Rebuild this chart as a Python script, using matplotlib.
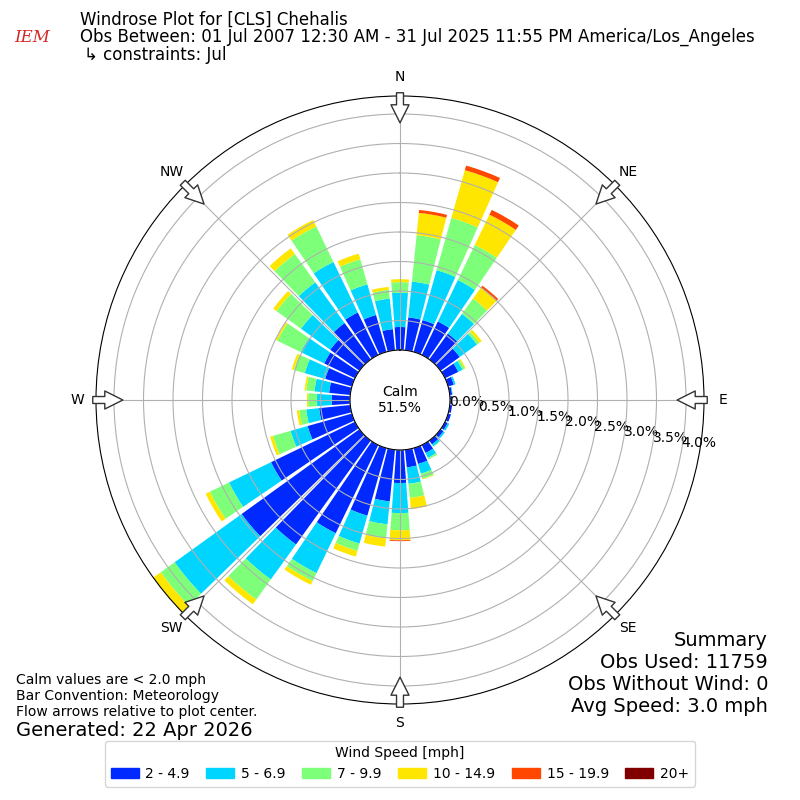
import numpy as np
import matplotlib
matplotlib.use("Agg")
import matplotlib.pyplot as plt
from matplotlib.patches import Patch

# direction bins (degrees, meteorological "from")
directions = np.arange(0, 360, 10)

speed_labels = ["2 - 4.9", "5 - 6.9", "7 - 9.9", "10 - 14.9", "15 - 19.9", "20+"]

# cumulative frequency [%] at the top of each speed bin, per direction
cum_2_5 = [0.39, 0.56, 0.56, 0.63, 0.54, 0.40, 0.25, 0.10, 0.04, 0.04, 0.04, 0.05,
           0.05, 0.06, 0.08, 0.15, 0.28, 0.30, 0.56, 0.88, 1.19, 1.66, 2.17, 2.46,
           1.58, 0.78, 0.53, 0.31, 0.36, 0.47, 0.58, 0.61, 0.76, 0.80, 0.65, 0.36]
cum_5_7 = [0.97, 1.17, 1.44, 1.41, 0.95, 0.76, 0.33, 0.13, 0.05, 0.04, 0.04, 0.05,
           0.08, 0.09, 0.12, 0.24, 0.45, 0.58, 1.07, 1.27, 1.68, 2.41, 2.90, 3.86,
           2.37, 1.08, 0.75, 0.56, 0.61, 0.83, 1.02, 1.22, 1.61, 1.75, 1.19, 0.88]
cum_7_10 = [1.15, 1.96, 2.36, 2.07, 1.27, 0.81, 0.37, 0.13, 0.05, 0.04, 0.04, 0.05,
            0.08, 0.09, 0.13, 0.27, 0.54, 0.82, 1.36, 1.51, 1.81, 2.56, 3.32, 4.15,
            2.73, 1.39, 0.87, 0.71, 0.75, 1.02, 1.46, 1.73, 2.20, 2.42, 1.63, 1.03]
cum_10_15 = [1.20, 2.34, 3.20, 2.64, 1.50, 0.86, 0.39, 0.13, 0.05, 0.04, 0.04, 0.05,
             0.08, 0.09, 0.13, 0.27, 0.55, 1.01, 1.53, 1.65, 1.91, 2.63, 3.42, 4.35,
             2.81, 1.44, 0.91, 0.73, 0.78, 1.06, 1.49, 1.80, 2.32, 2.54, 1.73, 1.08]
cum_15_20 = [1.20, 2.39, 3.28, 2.73, 1.54, 0.86, 0.39, 0.13, 0.05, 0.04, 0.04, 0.05,
             0.08, 0.09, 0.13, 0.27, 0.55, 1.01, 1.545, 1.65, 1.91, 2.63, 3.42, 4.35,
             2.81, 1.44, 0.91, 0.73, 0.78, 1.06, 1.49, 1.80, 2.32, 2.54, 1.73, 1.08]
cum_20p = list(cum_15_20)

calm_pct = 51.5
rticks = np.arange(0, 4.01, 0.5)
compass = ["N", "NE", "E", "SE", "S", "SW", "W", "NW"]

colors = plt.get_cmap("jet")(np.linspace(0, 1, 7)[1:])

fig = plt.figure(figsize=(8, 8), dpi=100)
ax = fig.add_axes([0.12, 0.12, 0.76, 0.76], projection="polar")
ax.set_theta_zero_location("N")
ax.set_theta_direction(-1)

rmax = 4.305
ax.set_ylim(0, rmax)
ax.set_rorigin(-0.847)

theta = np.deg2rad(directions)
width = np.deg2rad(8.5)
cums = [cum_2_5, cum_5_7, cum_7_10, cum_10_15, cum_15_20, cum_20p]
bottom = np.zeros(len(directions))
for cum, color in zip(cums, colors):
    top = np.array(cum)
    ax.bar(theta, top - bottom, width=width, bottom=bottom, color=color,
           linewidth=0)
    bottom = top

ax.set_xticks(np.deg2rad(np.arange(0, 360, 45)))
ax.set_xticklabels(compass, fontsize=10)
ax.tick_params(axis="x", pad=3)
ax.set_yticks(rticks)
ax.set_yticklabels([f"{v:.1f}%" for v in rticks], fontsize=10)
ax.set_rlabel_position(100)
ax.grid(True, color="#b0b0b0", lw=0.8)

# flow arrows on the rim, pointing to the center
for ang in np.arange(0, 360, 45):
    t = np.deg2rad(ang)
    ax.annotate("", xy=(t, 3.85), xytext=(t, 4.36), xycoords="data",
                annotation_clip=False,
                arrowprops=dict(arrowstyle="simple,head_length=1.3,head_width=1.3,tail_width=0.5",
                                fc="white", ec="#333333", lw=1,
                                shrinkA=0, shrinkB=0))

ax.text(0, -0.847, f"Calm\n{calm_pct}%", ha="center", va="center", fontsize=10)

# header
fig.text(14 / 800, 1 - 38 / 800, "IEM", color="#d62728", fontsize=12, style="italic",
         family="DejaVu Serif", va="center")
fig.text(80 / 800, 1 - 20 / 800, "Windrose Plot for [CLS] Chehalis", fontsize=12,
         va="center")
fig.text(80 / 800, 1 - 37 / 800,
         "Obs Between: 01 Jul 2007 12:30 AM - 31 Jul 2025 11:55 PM America/Los_Angeles",
         fontsize=12, va="center")
fig.text(84 / 800, 1 - 55 / 800, "\u21b3 constraints: Jul", fontsize=12, va="center")

# footers
fig.text(16 / 800, 1 - 680 / 800, "Calm values are < 2.0 mph", fontsize=10, va="center")
fig.text(16 / 800, 1 - 696 / 800, "Bar Convention: Meteorology", fontsize=10, va="center")
fig.text(16 / 800, 1 - 712 / 800, "Flow arrows relative to plot center.", fontsize=10,
         va="center")
fig.text(16 / 800, 1 - 730 / 800, "Generated: 22 Apr 2026", fontsize=14, va="center")

summary = ["Summary", "Obs Used: 11759", "Obs Without Wind: 0", "Avg Speed: 3.0 mph"]
for i, line in enumerate(summary):
    fig.text(768 / 800, 1 - (640 + 22 * i) / 800, line, fontsize=14, ha="right",
             va="center")

handles = [Patch(color=c, label=l) for c, l in zip(colors, speed_labels)]
fig.legend(handles=handles, loc="lower center", bbox_to_anchor=(0.5, 0.008), ncol=6,
           title="Wind Speed [mph]", fontsize=10, title_fontsize=10,
           handlelength=2.0, handletextpad=0.5, columnspacing=1.2)

fig.savefig("out.png", dpi=100)
